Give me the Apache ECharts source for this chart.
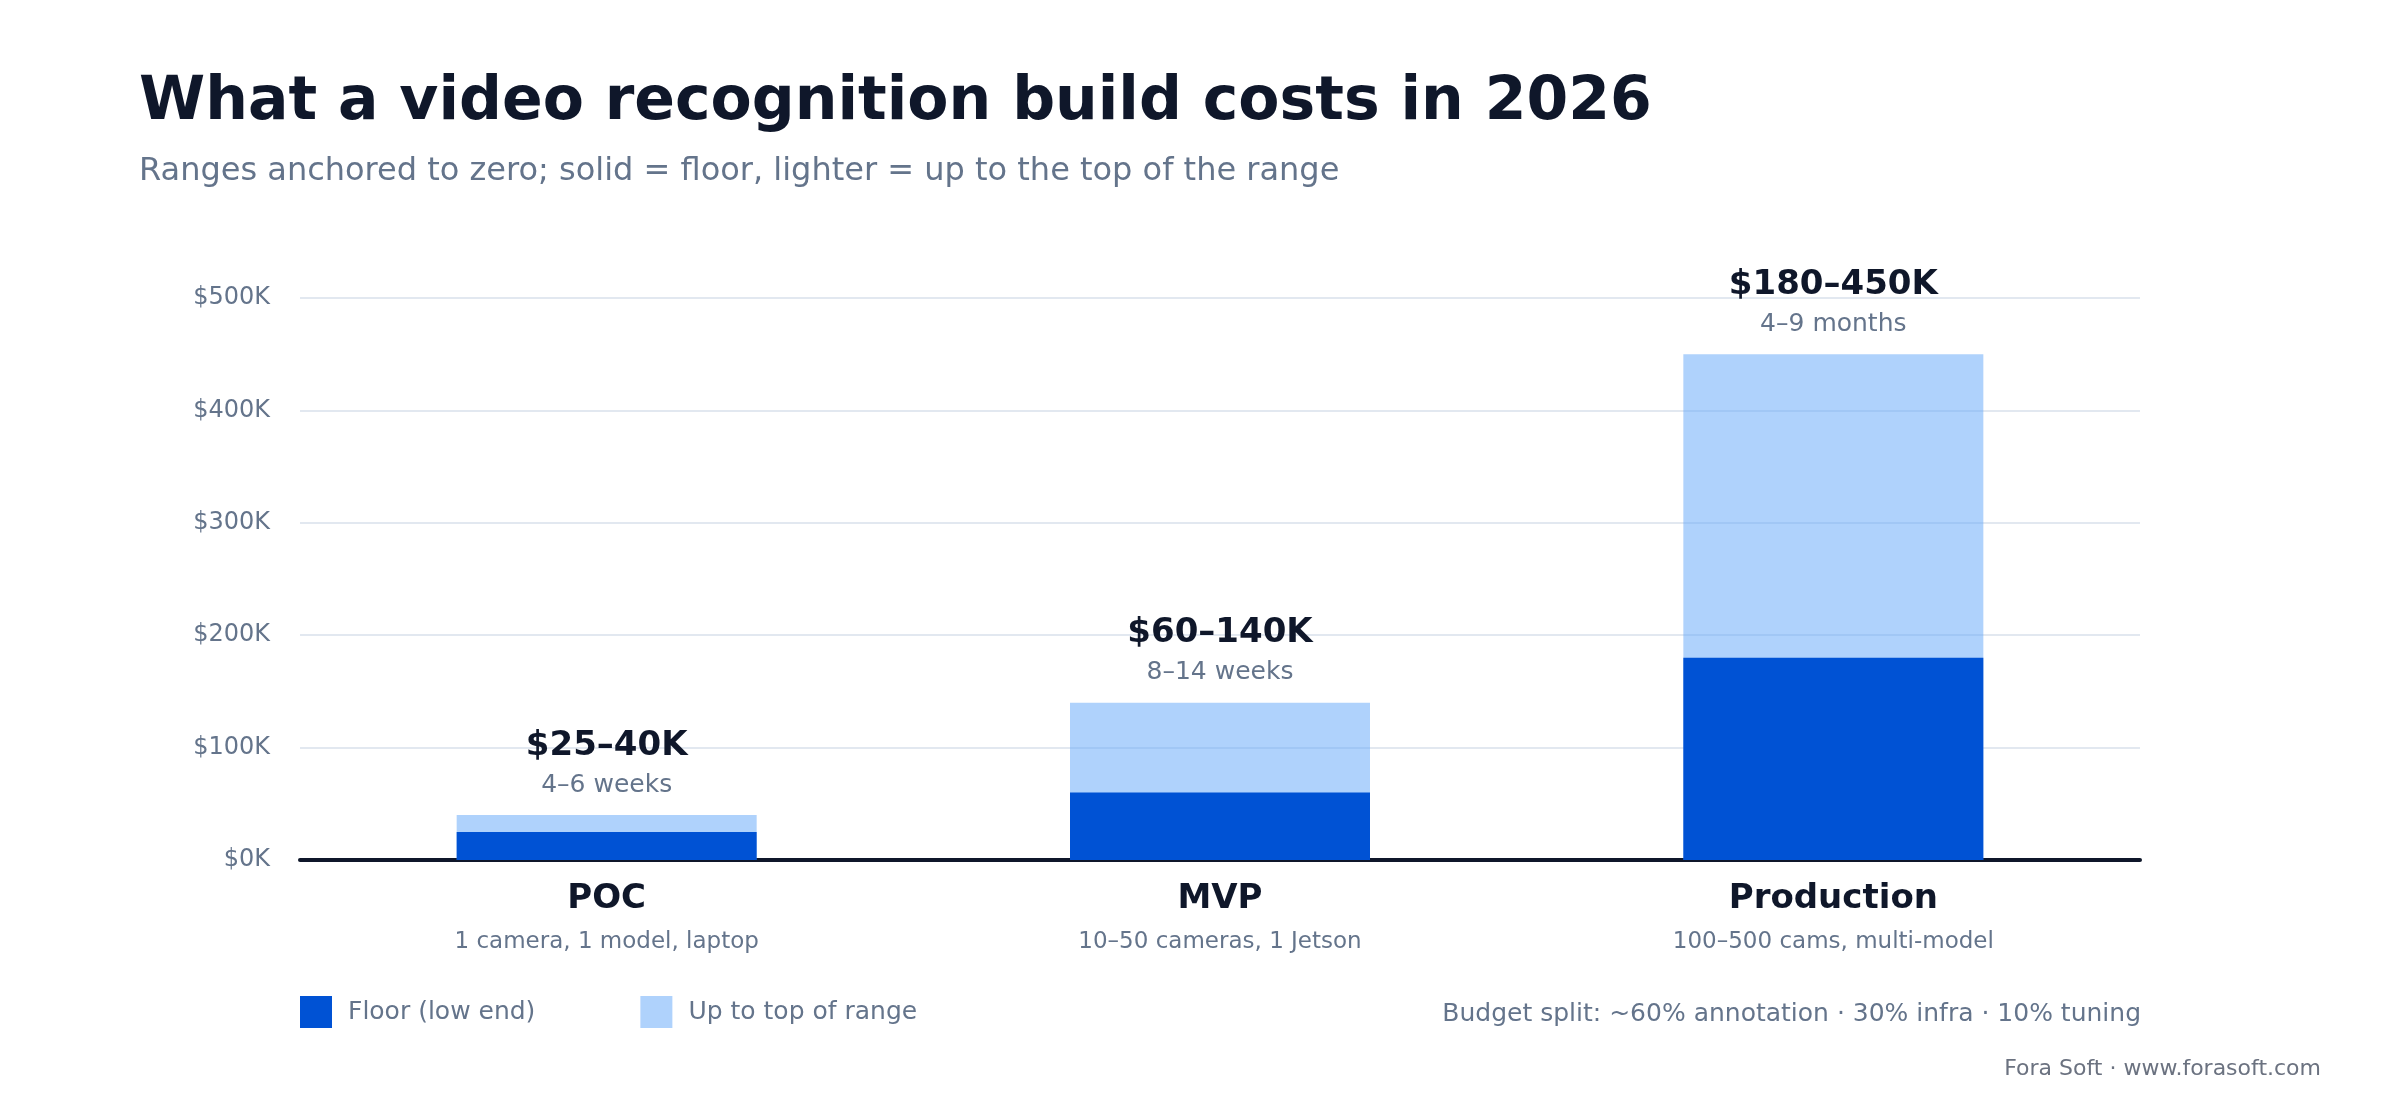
<!DOCTYPE html>
<html>
<head>
<meta charset="utf-8">
<script src="https://cdn.jsdelivr.net/npm/echarts@6/dist/echarts.min.js"></script>
<style>
  html, body { margin: 0; padding: 0; background: #ffffff; }
  #chart { width: 2400px; height: 1120px; }
</style>
</head>
<body>
<div id="chart"></div>
<script>
const categories = ['POC', 'MVP', 'Production'];
const categoryNotes = ['1 camera, 1 model, laptop', '10–50 cameras, 1 Jetson', '100–500 cams, multi-model'];
const floorValues = [25, 60, 180];
const topValues = [40, 140, 450];
const rangeLabels = ['$25–40K', '$60–140K', '$180–450K'];
const durationLabels = ['4–6 weeks', '8–14 weeks', '4–9 months'];
const seriesNames = ['Floor (low end)', 'Up to top of range'];

const FONT = '"DejaVu Sans", "Noto Sans", sans-serif';
const DARK = '#0f172a';
const SLATE = '#64748b';

const chart = echarts.init(document.getElementById('chart'), null, { renderer: 'canvas' });

chart.setOption({
  backgroundColor: '#ffffff',
  animation: false,
  textStyle: { fontFamily: FONT },
  grid: { left: 300, right: 260, top: 298, bottom: 260, containLabel: false },
  legend: {
    data: seriesNames,
    left: 300,
    top: 996,
    padding: 0,
    icon: 'rect',
    itemWidth: 32,
    itemHeight: 32,
    itemGap: 105,
    textStyle: { fontFamily: FONT, fontSize: 25, color: SLATE, padding: [2, 0, 0, 11] },
    selectedMode: false
  },
  xAxis: {
    type: 'category',
    data: categories,
    axisLine: { show: true, lineStyle: { color: DARK, width: 4 } },
    axisTick: { show: false },
    axisLabel: {
      margin: 17,
      formatter: function (value, idx) {
        return '{a|' + value + '}\n{b|' + categoryNotes[idx] + '}';
      },
      rich: {
        a: { fontFamily: FONT, fontSize: 34, fontWeight: 'bold', color: DARK, lineHeight: 44 },
        b: { fontFamily: FONT, fontSize: 23, color: SLATE, lineHeight: 42 }
      }
    }
  },
  yAxis: {
    type: 'value',
    min: 0,
    max: 500,
    interval: 100,
    axisLine: { show: false },
    axisTick: { show: false },
    splitLine: { show: true, lineStyle: { color: '#e2e8f0', width: 2 } },
    axisLabel: {
      margin: 30,
      fontFamily: FONT,
      fontSize: 24,
      color: SLATE,
      formatter: function (v) { return '$' + v + 'K'; }
    }
  },
  series: [
    {
      name: seriesNames[1],
      type: 'bar',
      data: topValues,
      barWidth: 300,
      barGap: '-100%',
      z: 2,
      itemStyle: { color: 'rgba(96,165,250,0.5)' },
      label: {
        show: true,
        position: 'top',
        distance: 11,
        formatter: function (p) {
          return '{a|' + rangeLabels[p.dataIndex] + '}\n{b|' + durationLabels[p.dataIndex] + '}';
        },
        rich: {
          a: { fontFamily: FONT, fontSize: 34, fontWeight: 'bold', color: DARK, lineHeight: 40, align: 'center' },
          b: { fontFamily: FONT, fontSize: 25, color: SLATE, lineHeight: 38, align: 'center' }
        }
      }
    },
    {
      name: seriesNames[0],
      type: 'bar',
      data: floorValues,
      barWidth: 300,
      barGap: '-100%',
      z: 3,
      itemStyle: { color: '#0052d4' }
    }
  ],
  graphic: [
    {
      type: 'text', x: 139, y: 103,
      style: { text: 'What a video recognition build costs in 2026', fill: DARK,
        font: 'bold 60px ' + FONT, textAlign: 'left', textVerticalAlign: 'middle' }
    },
    {
      type: 'text', x: 139, y: 172,
      style: { text: 'Ranges anchored to zero; solid = floor, lighter = up to the top of the range', fill: SLATE,
        font: '32px ' + FONT, textAlign: 'left', textVerticalAlign: 'middle' }
    },
    {
      type: 'text', x: 2141, y: 1014,
      style: { text: 'Budget split: ~60% annotation · 30% infra · 10% tuning', fill: SLATE,
        font: '25px ' + FONT, textAlign: 'right', textVerticalAlign: 'middle' }
    },
    {
      type: 'text', x: 2321, y: 1069,
      style: { text: 'Fora Soft · www.forasoft.com', fill: '#6b7280',
        font: '22px ' + FONT, textAlign: 'right', textVerticalAlign: 'middle' }
    }
  ]
});
</script>
</body>
</html>
